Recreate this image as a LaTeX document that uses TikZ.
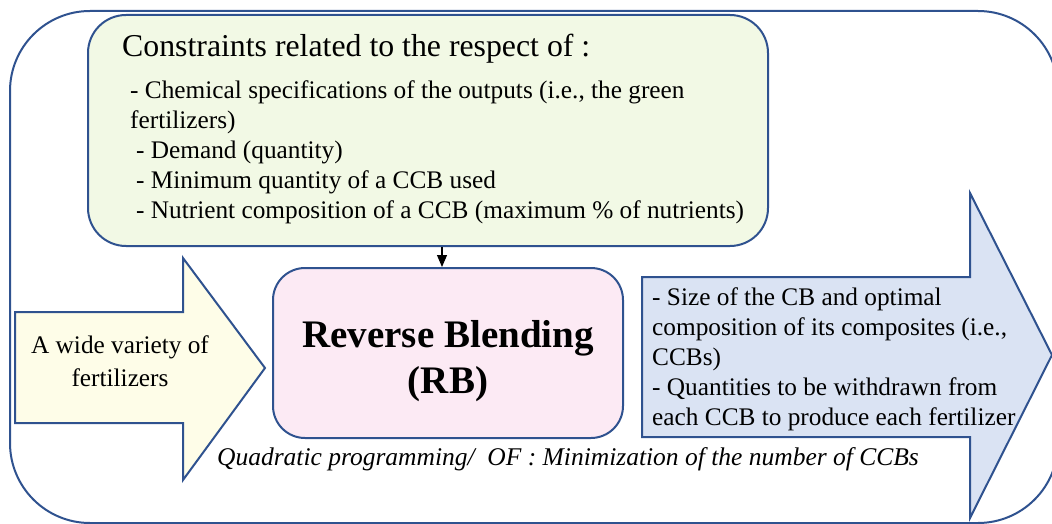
\documentclass[tikz,border=0pt]{standalone}
\usepackage{fontspec}
\setmainfont{Liberation Serif}
\usetikzlibrary{arrows.meta}
\definecolor{rimblue}{RGB}{47,82,143}
\definecolor{greenfill}{RGB}{242,249,229}
\definecolor{pinkfill}{RGB}{252,234,244}
\definecolor{yellowfill}{RGB}{254,253,232}
\definecolor{bluefill}{RGB}{218,227,243}
\begin{document}
\begin{tikzpicture} [x=1pt, y=-1pt]
\tikzstyle{every node}=[inner sep=0pt];
\tikzstyle{box}=[draw=rimblue, line width=2pt];
\tikzstyle{txt}=[font=\fontsize{25.3}{30}\selectfont, align=left];
\useasboundingbox (0,0) rectangle (1052,524);
\draw [box, rounded corners=80pt] (10,11) rectangle (1058,523); % frame
\node [box, fill=greenfill, rounded corners=38pt, minimum width=680pt, minimum height=231pt] (constr) at (428,130.5) {};
\node [box, fill=pinkfill, rounded corners=32pt, minimum width=350pt, minimum height=170pt] (rb) at (448,353) {};
\draw [box, fill=yellowfill] (15,312) -- (183,312) -- (183,258) -- (265,368) -- (183,480) -- (183,423) -- (15,423) -- cycle; % input
\draw [box, fill=bluefill] (642,277) -- (970,277) -- (970,193) -- (1052,355) -- (970,518) -- (970,437) -- (642,437) -- cycle; % output
\draw [-{Triangle[length=12pt, width=10pt]}, line width=1.1pt] ([xshift=-6pt]rb.north |- constr.south) -- ([xshift=-6pt]rb.north);
\node [font=\fontsize{31.8}{36}\selectfont, anchor=base west] (head) at (122,57) {Constraints related to the respect of :};
\node [txt, anchor=base west] (specs) at (130,218) {- Chemical specifications of the outputs (i.e., the green\\fertilizers)\\\hspace{6pt}- Demand (quantity)\\\hspace{6pt}- Minimum quantity of a CCB used\\\hspace{6pt}- Nutrient composition of a CCB (maximum \% of nutrients)};
\node [txt, align=center, font=\fontsize{25.3}{33}\selectfont, anchor=base] (input) at (120,386) {A wide variety of\\fertilizers};
\node [font=\fontsize{39}{46}\selectfont\bfseries, align=center, anchor=base] (rbtext) at (448,393) {Reverse Blending\\(RB)};
\node [txt, anchor=base west] (output) at (652,425) {- Size of the CB and optimal\\composition of its composites (i.e.,\\CCBs)\\- Quantities to be withdrawn from\\each CCB to produce each fertilizer};
\node [font=\fontsize{25.5}{30}\selectfont\itshape, anchor=base] (of) at (568,465) {Quadratic programming/\ \ OF : Minimization of the number of CCBs};
\end{tikzpicture}
\end{document}
